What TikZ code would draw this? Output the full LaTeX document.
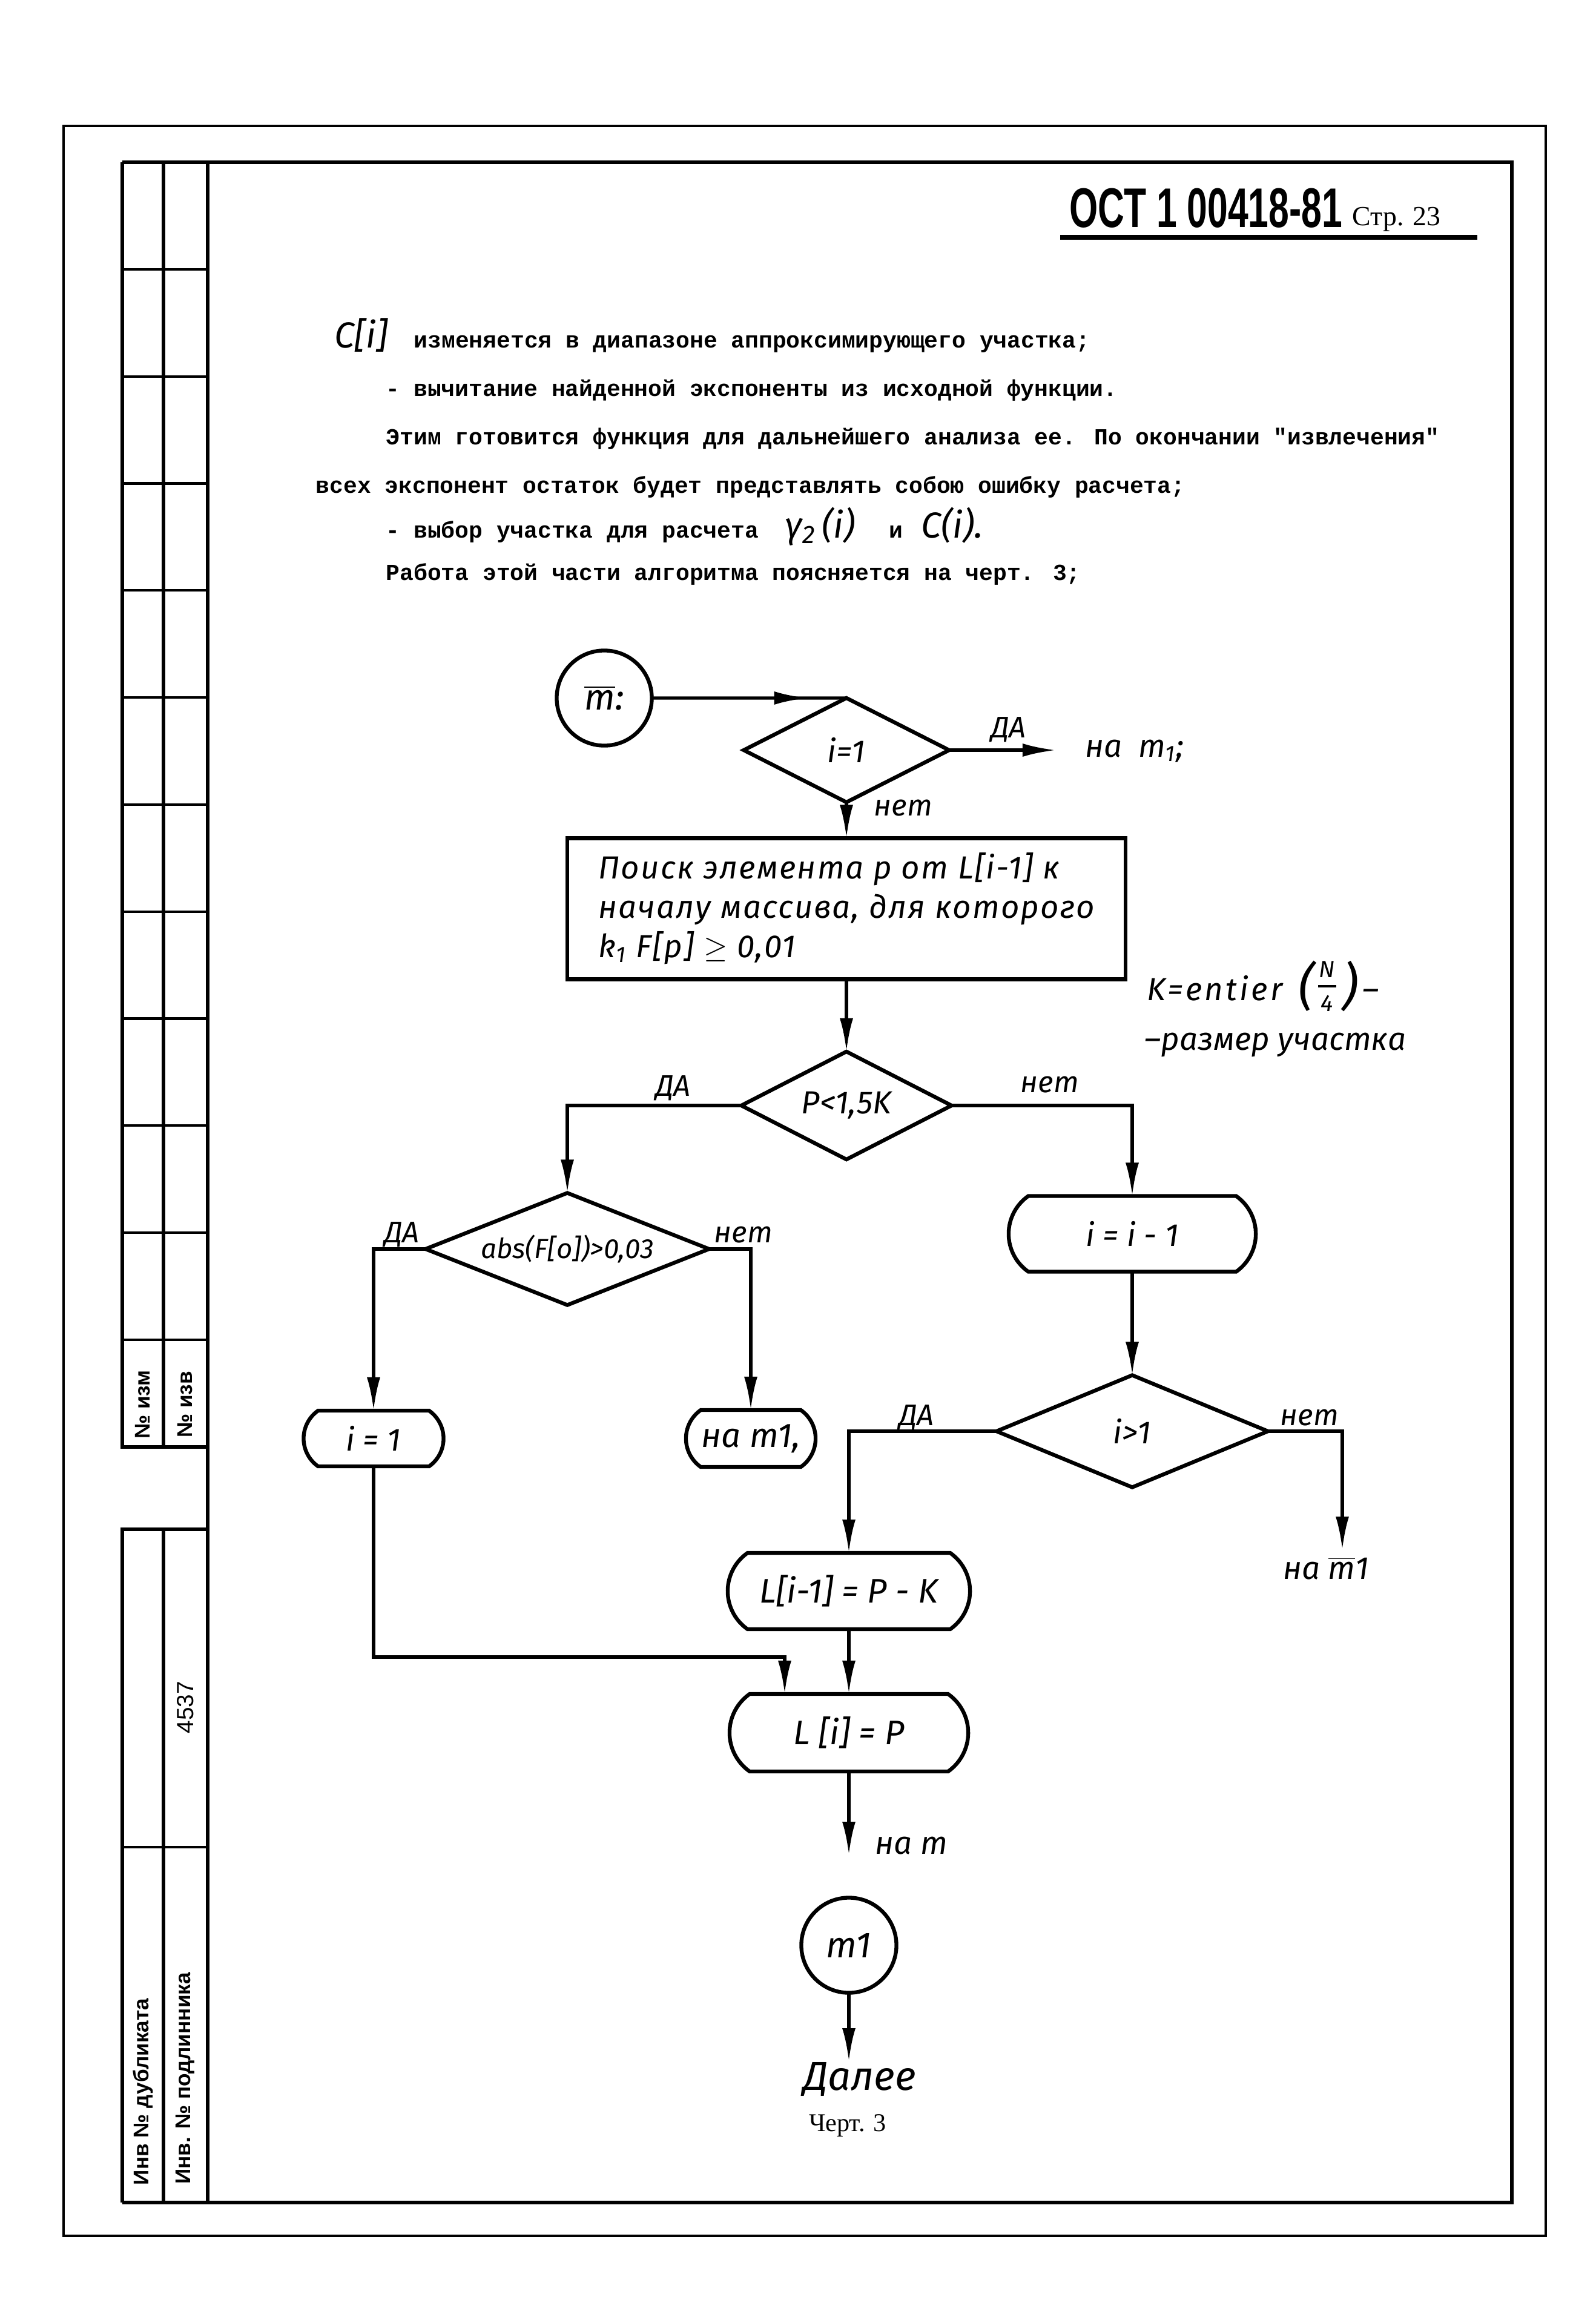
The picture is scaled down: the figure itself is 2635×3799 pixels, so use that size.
\documentclass[tikz,border=0pt]{standalone}
\usepackage{fontspec}
\usepackage{graphicx}
\setmainfont{Liberation Serif}
\newfontfamily\tw{Liberation Mono}
\newfontfamily\hand{Fira Sans}
\newfontfamily\handsp{Fira Sans}[LetterSpace=4]
\newfontfamily\handwide{Fira Sans}[LetterSpace=8]
\newfontfamily\stamp{Liberation Sans}
\usetikzlibrary{shapes.geometric,shapes.misc,arrows.meta,decorations.markings}

\newcommand{\hw}[1]{\hand\itshape\fontsize{#1}{#1}\selectfont}
\newcommand{\mbar}{\ensuremath{\overline{\mbox{m}}}}

\tikzset{
  >={Latex[length=5.5mm,width=2.2mm]},
  flow/.style={line width=1.5pt},
  outline/.style={draw, line width=1.8pt, inner sep=0pt, outer sep=0pt},
  cond/.style={outline, diamond, shape aspect=2, font=\hw{15}},
  proc/.style={outline, rectangle, font=\handsp\itshape\fontsize{15}{18.5}\selectfont},
  term/.style={outline, rounded rectangle, rounded rectangle arc length=110, font=\hw{15}},
  conn/.style={outline, circle, minimum size=1.57cm, font=\hw{17}},
  lbl/.style={inner sep=0pt, anchor=base, font=\hw{14}},
  typed/.style={inner sep=0pt, anchor=base west, font=\tw\bfseries\fontsize{10.8}{13}\selectfont},
  stamplbl/.style={inner sep=0pt, rotate=90, font=\stamp\bfseries\fontsize{10}{12}\selectfont},
  midarrow/.style={flow, postaction={decorate},
    decoration={markings, mark=at position #1 with {\arrow{>}}}},
}

\begin{document}
\begin{tikzpicture}[x=0.01cm,y=-0.01cm]
  \useasboundingbox (0,0) rectangle (2635,3799);

  % page frame and stamp strip
  \draw[line width=1pt] (105,208) rectangle (2553,3693);
  \draw[line width=1.8pt] (202,268) -- (2497,268) -- (2497,3638) -- (202,3638);
  \draw[line width=1.8pt] (343,268) -- (343,3638);
  \draw[line width=1.8pt] (202,268) -- (202,2390) -- (343,2390);
  \draw[line width=1.6pt] (270,268) -- (270,2390);
  \foreach \k in {1,...,11}
    \draw[line width=1.2pt] (202,{268+176.8*\k}) -- (343,{268+176.8*\k});
  \draw[line width=1.8pt] (343,2526) -- (202,2526) -- (202,3638);
  \draw[line width=1.6pt] (270,2526) -- (270,3638);
  \draw[line width=1.2pt] (202,3051) -- (343,3051);

  \node[stamplbl] (izm) at (236,2320) {№ изм};
  \node[stamplbl] (izv) at (306,2320) {№ изв};
  \node[stamplbl, font=\stamp\fontsize{11}{12}\selectfont] (invno) at (306,2820) {4537};
  \node[stamplbl] (dub) at (236,3455) {Инв № дубликата};
  \node[stamplbl] (podl) at (306,3433) {Инв. № подлинника};

  % header
  \node[inner sep=0pt, anchor=base west] (code) at (1766,375)
    {\scalebox{0.69}[1.05]{\stamp\bfseries\fontsize{25}{30}\selectfont ОСТ 1 00418-81}};
  \node[inner sep=0pt, anchor=base west, font=\fontsize{13}{15}\selectfont] (page) at (2233,372) {Стр. 23};
  \draw[line width=2pt] (1751,392) -- (2440,392);

  % text above the chart
  \node[inner sep=0pt, anchor=base west, font=\hw{17}] (ci) at (552,574) {C[i]};
  \node[typed] (t1) at (683,574) {изменяется в диапазоне аппроксимирующего участка;};
  \node[typed] (t2) at (637,654) {- вычитание найденной экспоненты из исходной функции.};
  \node[typed] (t3) at (637,734) {Этим готовится функция для дальнейшего анализа ее. По окончании "извлечения"};
  \node[typed] (t4) at (521,814) {всех экспонент остаток будет представлять собою ошибку расчета;};
  \node[typed] (t5) at (637,888) {- выбор участка для расчета};
  \node[inner sep=0pt, anchor=base west, font=\hw{17}] (gam) at (1296,888) {γ\textsubscript{2}\,(i)};
  \node[typed] (t5b) at (1468,888) {и};
  \node[inner sep=0pt, anchor=base west, font=\hw{17}] (ci2) at (1521,888) {C(i).};
  \node[typed] (t6) at (637,958) {Работа этой части алгоритма поясняется на черт. 3;};

  % chart
  \node[conn] (m0) at (998,1153) {\mbar:};
  \node[cond, minimum width=3.39cm, minimum height=1.72cm] (d1) at (1398,1239) {i=1};
  \draw[midarrow=0.8] (m0) -- (d1.north);
  \coordinate (tom1) at (1744,1239);
  \draw[flow,->] (d1.east) -- (tom1);
  \node[lbl] (yes1) at (1666,1218) {ДА};
  \node[lbl, anchor=base west, font=\hw{15}] (gotom1) at (1792,1250) {на\enspace m\textsubscript{1};};
  \node[lbl] (no1) at (1492,1347) {нет};

  \node[proc, minimum width=9.21cm, minimum height=2.33cm, align=left] (search) at (1398,1501)
    {Поиск элемента p от L[i-1] к\\началу массива, для которого\\k\textsubscript{1} F[p] $\geq$ 0,01};
  \draw[flow,->] (d1.south) -- (search.north);

  % size of the section
  \node[lbl, anchor=base west, font=\handwide\itshape\fontsize{15}{15}\selectfont] (kdef) at (1894,1652) {K=entier};
  \node[lbl, font=\hw{24}] (lpar) at (2158,1658) {(};
  \node[inner sep=0pt, font=\hw{11}] (fnum) at (2192,1601) {N};
  \node[inner sep=0pt, font=\hw{11}] (fden) at (2192,1657) {4};
  \draw[line width=1.2pt] (2177,1629) -- (2207,1629);
  \node[lbl, font=\hw{24}] (rpar) at (2230,1658) {)};
  \node[lbl, anchor=base west, font=\hw{15}] (kdash) at (2250,1652) {–};
  \node[lbl, anchor=base west, font=\hw{15}] (kdesc) at (1890,1734) {–размер участка};

  \node[cond, minimum width=3.47cm, minimum height=1.78cm] (d2) at (1398,1826) {P<1,5K};
  \draw[flow,->] (search.south) -- (d2.north);
  \node[lbl] (yes2) at (1112,1810) {ДА};
  \node[lbl] (no2) at (1734,1804) {нет};

  \node[cond, shape aspect=2.53, minimum width=4.68cm, minimum height=1.85cm, font=\hw{13}] (d3) at (937,2063) {abs(F[o])>0,03};
  \node[term, minimum width=4.08cm, minimum height=1.25cm] (dec) at (1870,2038) {i = i - 1};
  \draw[flow,->] (d2.west) -| (d3.north);
  \draw[flow,->] (d2.east) -| (dec.north);
  \node[lbl] (yes3) at (664,2052) {ДА};
  \node[lbl] (no3) at (1228,2052) {нет};

  \node[term, minimum width=2.31cm, minimum height=0.92cm] (one) at (617,2376) {i = 1};
  \node[term, minimum width=2.14cm, minimum height=0.94cm, font=\hw{16}] (gom1) at (1240,2376) {на m1,};
  \draw[flow,->] (d3.west) -| (one.north);
  \draw[flow,->] (d3.east) -| (gom1.north);

  \node[cond, minimum width=4.48cm, minimum height=1.85cm] (d4) at (1870,2364) {i>1};
  \draw[flow,->] (dec.south) -- (d4.north);
  \node[lbl] (yes4) at (1514,2354) {ДА};
  \node[lbl] (no4) at (2163,2354) {нет};
  \coordinate (tonm1) at (2217,2560);
  \draw[flow,->] (d4.east) -| (tonm1);
  \node[lbl, font=\hw{15}] (gonm1) at (2190,2608) {на \mbar 1};

  \node[term, minimum width=4.00cm, minimum height=1.26cm, font=\hw{16}] (lprev) at (1402,2628) {L[i-1] = P - K};
  \draw[flow,->] (d4.west) -| (lprev.north);
  \node[term, minimum width=3.94cm, minimum height=1.28cm, font=\hw{16}] (lcur) at (1402,2862) {L [i] = P};
  \draw[flow,->] (lprev.south) -- (lcur.north);
  \coordinate (join) at (1296,2737);
  \draw[flow,->] (one.south) |- (join) -- (join |- lcur.north);

  \coordinate (tom) at (1402,3064);
  \draw[flow,->] (lcur.south) -- (tom);
  \node[lbl, anchor=base west, font=\hw{15}] (gom) at (1445,3062) {на m};

  \node[conn] (m1) at (1402,3213) {m1};
  \coordinate (further) at (1402,3405);
  \draw[flow,->] (m1) -- (further);
  \node[lbl, font=\hw{19}] (next) at (1420,3452) {Далее};
  \node[inner sep=0pt, anchor=base, font=\fontsize{12}{14}\selectfont] (fig) at (1400,3520) {Черт. 3};
\end{tikzpicture}
\end{document}
